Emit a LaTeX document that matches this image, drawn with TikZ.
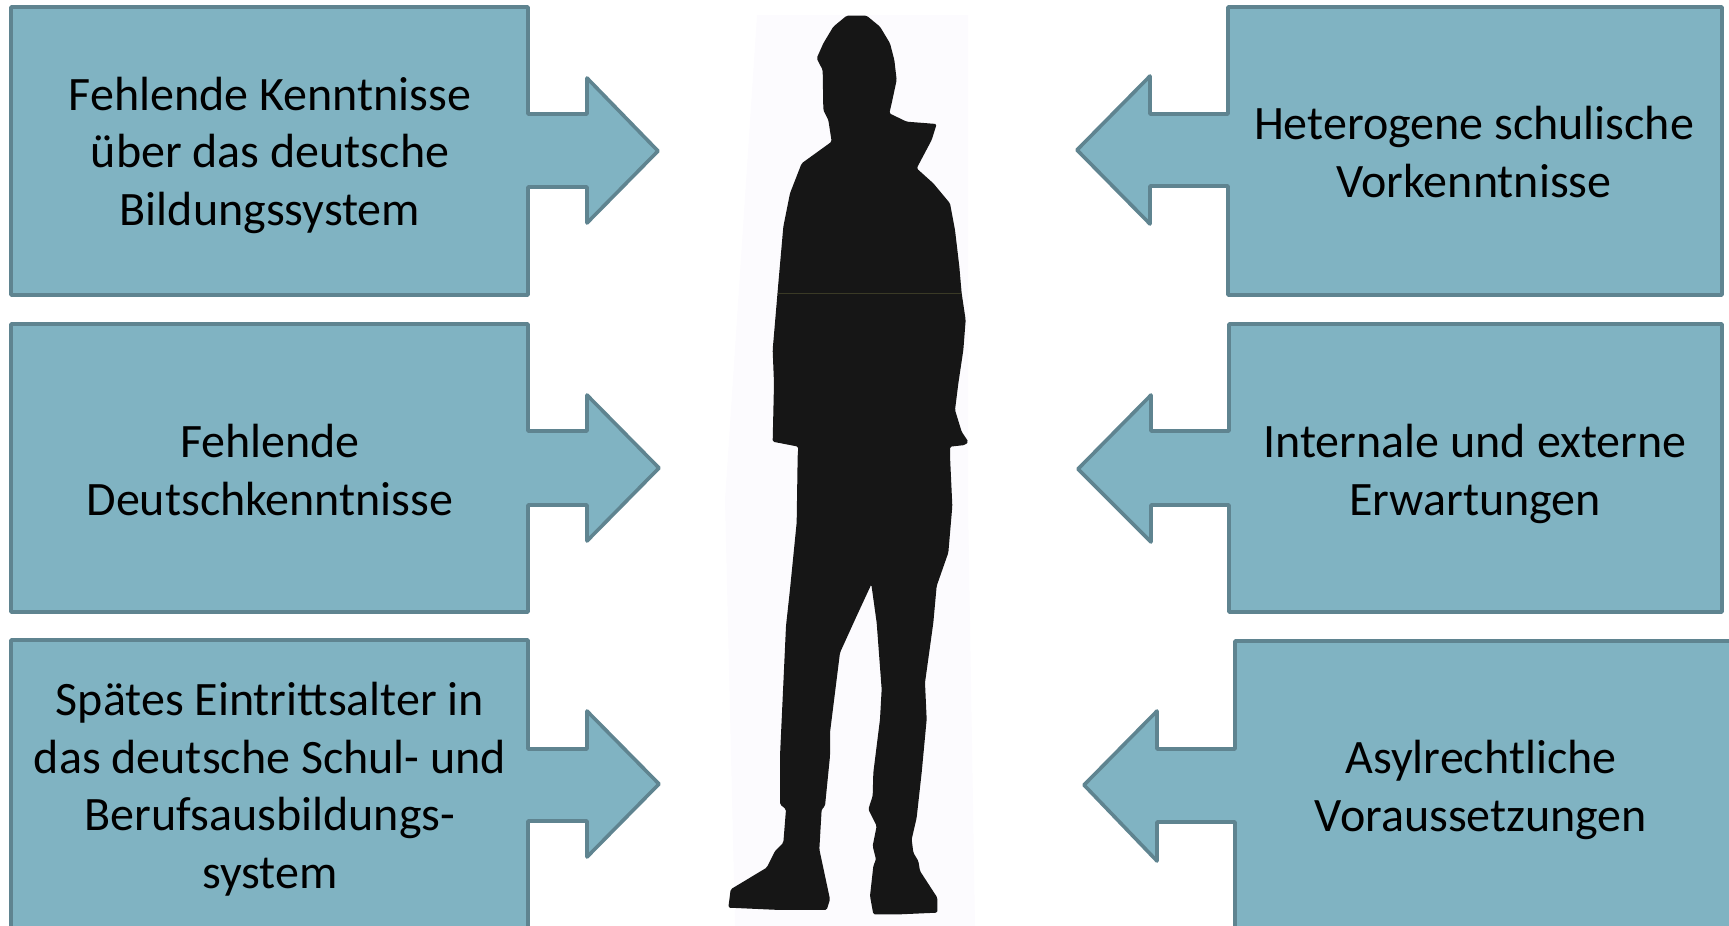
\documentclass[tikz,border=0pt]{standalone}
\usepackage{fontspec}
\setmainfont{Carlito}
\definecolor{boxfill}{HTML}{80B3C2}
\definecolor{boxedge}{HTML}{5F8490}
\definecolor{figure}{HTML}{161616}
\definecolor{haze}{HTML}{FCFBFE}
\definecolor{scanline}{HTML}{3A3A26}
\tikzset{
  callout/.style={fill=boxfill,draw=boxedge,line width=3.6pt,line join=round},
  label/.style={align=center,text=black,font=\fontsize{48}{57.5}\selectfont,inner sep=0pt},
}
\begin{document}
\begin{tikzpicture}[x=1pt,y=-1pt]
\useasboundingbox (0,0) rectangle (1729,926);
% faint scan background
\fill[haze] (757,15) -- (968,15) -- (968,500) -- (975,926) -- (735,926) -- (725,500) -- cycle;
% left callouts
\path[callout] (11,7) -- (528,7) -- (528,114) -- (587,114) -- (587,78) -- (658,151) -- (587,223) -- (587,187) -- (528,187) -- (528,295) -- (11,295) -- cycle;
\path[callout] (11,324) -- (528,324) -- (528,431) -- (587,431) -- (587,395) -- (659,468) -- (587,541) -- (587,505) -- (528,505) -- (528,612) -- (11,612) -- cycle;
\path[callout] (11,640) -- (528,640) -- (528,749) -- (587,749) -- (587,711) -- (659,784) -- (587,857) -- (587,821) -- (528,821) -- (528,930) -- (11,930) -- cycle;
% right callouts
\path[callout] (1722,7) -- (1228,7) -- (1228,114) -- (1150,114) -- (1150,76) -- (1077,150) -- (1150,224) -- (1150,186) -- (1228,186) -- (1228,295) -- (1722,295) -- cycle;
\path[callout] (1722,324) -- (1229,324) -- (1229,431) -- (1151,431) -- (1151,395) -- (1078,469) -- (1151,542) -- (1151,505) -- (1229,505) -- (1229,612) -- (1722,612) -- cycle;
\path[callout] (1735,641) -- (1235,641) -- (1235,749) -- (1157,749) -- (1157,711) -- (1084,785) -- (1157,861) -- (1157,822) -- (1235,822) -- (1235,930) -- (1735,930) -- cycle;
% silhouette (traced)
\begin{scope}[shift={(700,0)},x=0.33333pt,y=-0.33333pt]
\fill[figure,rounded corners=1.5pt]
 (440,47) -- (500,47) -- (540,80) -- (570,130) -- (583,180) -- (590,240) -- (575,310) -- (568,340) -- (620,365) -- (710,372) -- (695,420) -- (650,505) -- (700,550) -- (750,610) -- (765,690) -- (778,800) -- (785,880) -- (797,960) -- (790,1050) -- (775,1150) -- (765,1230) -- (785,1295) -- (805,1325) -- (795,1335) -- (750,1340)
 -- (750,1368) -- (757,1518) -- (745,1658) -- (710,1758) -- (700,1868) -- (675,2048) -- (680,2158) -- (665,2318) -- (650,2453) -- (635,2518) -- (640,2558) -- (655,2583) -- (660,2613) -- (712,2693) -- (712,2738) -- (600,2743) -- (520,2743) -- (510,2688) -- (520,2598) -- (528,2578) -- (518,2538) -- (530,2478) -- (505,2428) -- (518,2388) -- (520,2318) -- (540,2158) -- (545,2068) -- (530,1868) -- (514,1753) -- (470,1848) -- (420,1958) -- (390,2198) -- (390,2268) -- (375,2418) -- (365,2428) -- (358,2548) -- (390,2698) -- (380,2730) -- (240,2730) -- (85,2723) -- (92,2668) -- (200,2603) -- (225,2553) -- (250,2528) -- (258,2428) -- (240,2413) -- (240,2268) -- (258,1878) -- (270,1768) -- (290,1568) -- (293,1368)
 -- (295,1340) -- (218,1325) -- (222,1150) -- (218,1050) -- (235,850) -- (250,680) -- (270,580) -- (305,490) -- (395,425) -- (385,360) -- (370,330) -- (368,210) -- (350,175) -- (370,130) -- (400,80) -- cycle;
\draw[color=scanline,line width=1.6pt] (235,880) -- (783,880);
\end{scope}
% labels
\node[label] (a) at (270,155) {Fehlende Kenntnisse\\über das deutsche\\Bildungssystem};
\node[label] (b) at (270,470) {Fehlende\\Deutschkenntnisse};
\node[label] (c) at (270,789) {Spätes Eintrittsalter in\\das deutsche Schul- und\\Berufsausbildungs-\\system};
\node[label] (d) at (1474,152) {Heterogene schulische\\Vorkenntnisse};
\node[label] (e) at (1475,474) {Internale und externe\\Erwartungen};
\node[label] (f) at (1481,790) {Asylrechtliche\\Voraussetzungen};
\end{tikzpicture}
\end{document}
